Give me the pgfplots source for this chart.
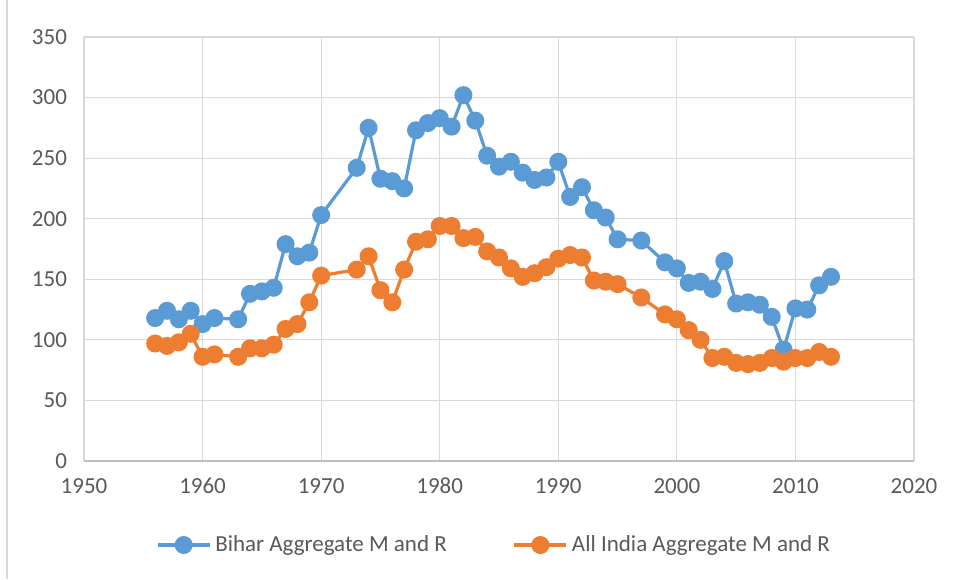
\documentclass[border=0pt]{standalone}
\usepackage{pgfplots}
\pgfplotsset{compat=1.18}
\usepackage{fontspec}
\setmainfont{Carlito}
\definecolor{cblue}{HTML}{5B9BD5}
\definecolor{corange}{HTML}{ED7D31}
\definecolor{cgrid}{HTML}{D9D9D9}
\definecolor{caxis}{HTML}{BFBFBF}
\definecolor{ctext}{HTML}{595959}
\begin{document}
\begin{tikzpicture}
\useasboundingbox (-42pt,-59pt) rectangle (436pt,230.5pt);
\draw[cgrid, line width=0.6pt] (-38.5pt,-59pt) -- (-38.5pt,230.5pt);
\begin{axis}[
  at={(0pt,0pt)}, anchor=origin,
  scale only axis, width=415pt, height=212pt,
  xmin=1950, xmax=2020, ymin=0, ymax=350,
  xtick={1950,1960,...,2020}, ytick={0,50,...,350},
  /pgf/number format/1000 sep={},
  /pgf/number format/assume math mode=true,
  grid=major, major grid style={cgrid, line width=0.6pt},
  axis line style={draw=none},
  tick style={draw=none},
  ticklabel style={font=\fontsize{11.5}{13}\selectfont, text=ctext},
  xticklabel style={yshift=-5pt},
  yticklabel style={xshift=-5pt},
  legend style={draw=none, fill=none, at={(0.5,0)}, xshift=-2pt, yshift=-42pt, anchor=center,
    legend columns=2, font=\fontsize{11.5}{13}\selectfont, text=ctext,
    /tikz/every even column/.append style={column sep=31pt}},
  legend cell align=left,
  legend image code/.code={\draw[#1, mark repeat=2, mark phase=2] plot coordinates {(0pt,0pt) (13pt,0pt) (26pt,0pt)};},
]
\addplot[cblue, line width=1.6pt, mark=*, mark size=3.7pt, mark options={solid, fill=cblue, draw=cblue}] coordinates {
(1956,118) (1957,124) (1958,117) (1959,124) (1960,113) (1961,118) (1963,117) (1964,138) (1965,140) (1966,143) (1967,179) (1968,169) (1969,172) (1970,203) (1973,242) (1974,275) (1975,233) (1976,231) (1977,225) (1978,273) (1979,279) (1980,283) (1981,276) (1982,302) (1983,281) (1984,252) (1985,243) (1986,247) (1987,238) (1988,232) (1989,234) (1990,247) (1991,218) (1992,226) (1993,207) (1994,201) (1995,183) (1997,182) (1999,164) (2000,159) (2001,147) (2002,148) (2003,142) (2004,165) (2005,130) (2006,131) (2007,129) (2008,119) (2009,92) (2010,126) (2011,125) (2012,145) (2013,152)
};
\addlegendentry{Bihar Aggregate M and R}
\addplot[corange, line width=1.6pt, mark=*, mark size=3.7pt, mark options={solid, fill=corange, draw=corange}] coordinates {
(1956,97) (1957,95) (1958,98) (1959,105) (1960,86) (1961,88) (1963,86) (1964,93) (1965,93) (1966,96) (1967,109) (1968,113) (1969,131) (1970,153) (1973,158) (1974,169) (1975,141) (1976,131) (1977,158) (1978,181) (1979,183) (1980,194) (1981,194) (1982,184) (1983,185) (1984,173) (1985,168) (1986,159) (1987,152) (1988,155) (1989,160) (1990,167) (1991,170) (1992,168) (1993,149) (1994,148) (1995,146) (1997,135) (1999,121) (2000,117) (2001,108) (2002,100) (2003,85) (2004,86) (2005,81) (2006,80) (2007,81) (2008,85) (2009,82) (2010,85) (2011,85) (2012,90) (2013,86)
};
\addlegendentry{All India Aggregate M and R}
\draw[caxis, line width=0.8pt] (axis cs:1950,0) -- (axis cs:2020,0);
\end{axis}
\end{tikzpicture}
\end{document}
